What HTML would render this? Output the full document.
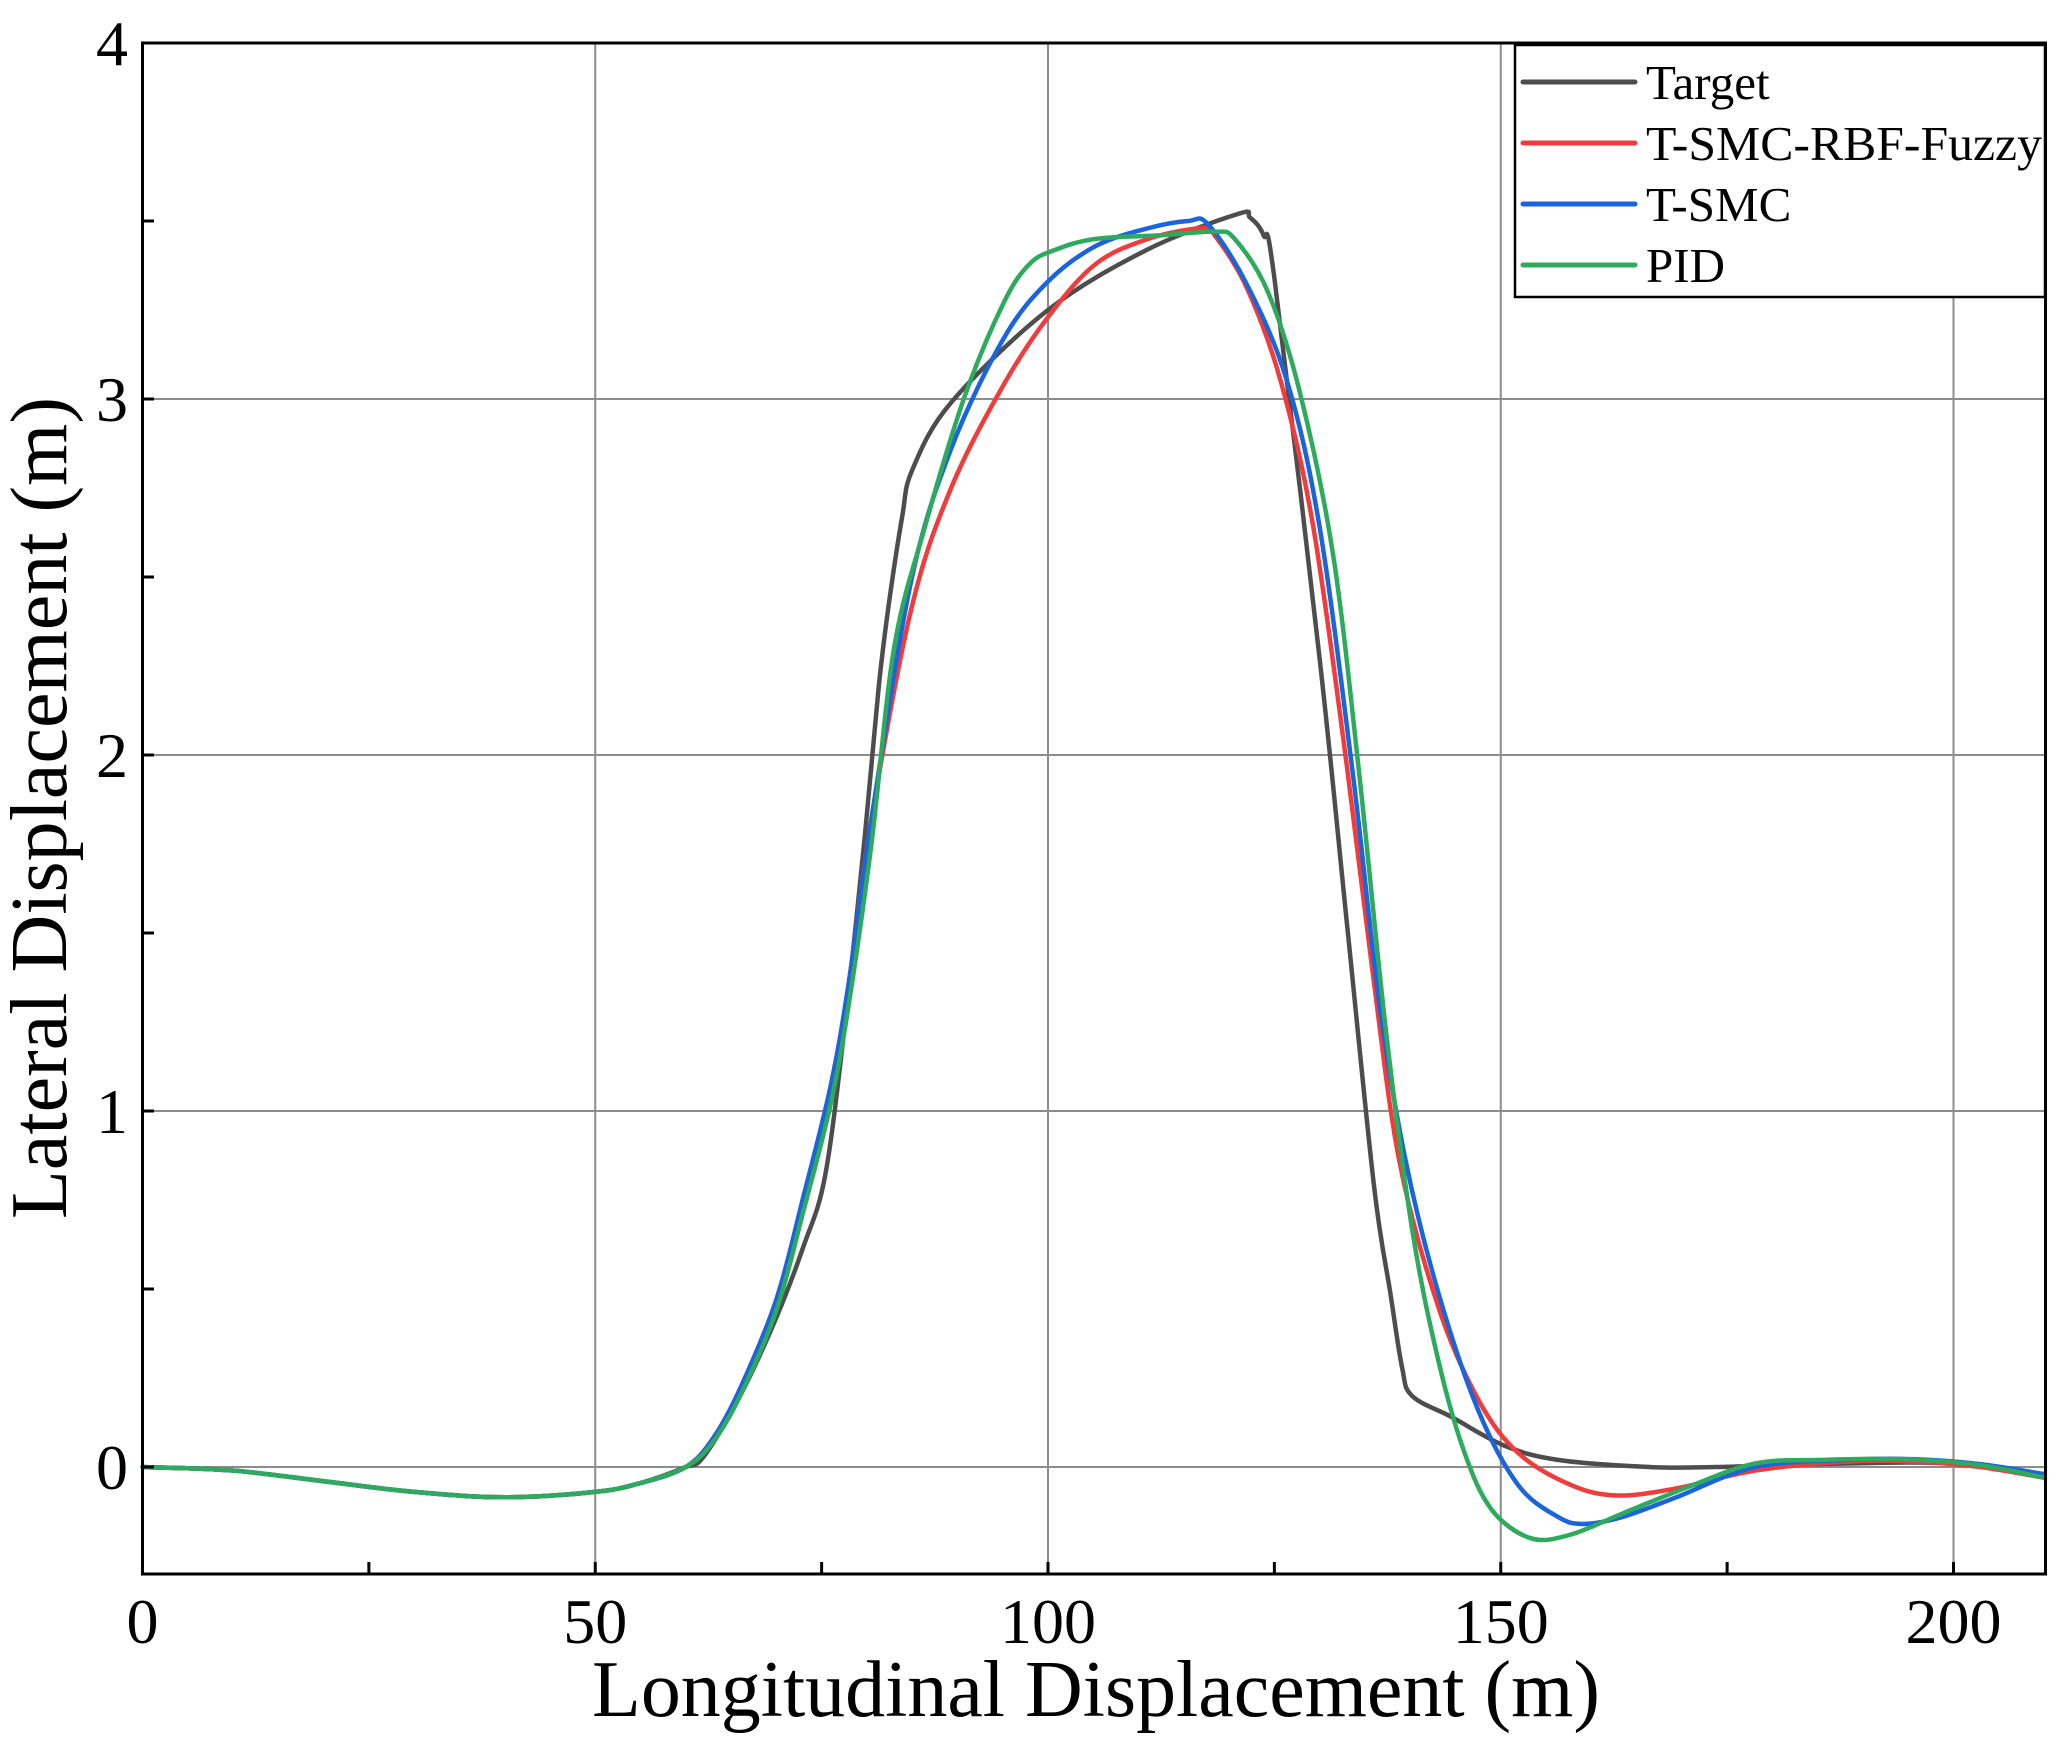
<!DOCTYPE html>
<html><head><meta charset="utf-8"><style>
html,body{margin:0;padding:0;background:#fff;}
svg{display:block;font-family:"Liberation Serif",serif;}
</style></head><body>
<svg id="s" width="2067" height="1747" viewBox="0 0 2067 1747" xmlns="http://www.w3.org/2000/svg">
<rect width="2067" height="1747" fill="#fff"/>
<g id="grid" stroke="#8c8c8c" stroke-width="2"></g>
<g id="curves" fill="none" stroke-width="4.5" stroke-linejoin="round" stroke-linecap="round"></g>
<rect x="142.5" y="43" width="1903" height="1531" fill="none" stroke="#000" stroke-width="3"/>
<g id="ticks" stroke="#000" stroke-width="3"></g>
<g id="labels" font-size="64" fill="#000"></g>
<text x="1096" y="1716" font-size="80" text-anchor="middle" textLength="1008" lengthAdjust="spacingAndGlyphs">Longitudinal Displacement (m)</text>
<text transform="translate(66,808) rotate(-90)" font-size="80" text-anchor="middle" textLength="822" lengthAdjust="spacingAndGlyphs">Lateral Displacement (m)</text>
<g>
<rect x="1515" y="45" width="530" height="252" fill="#fff" stroke="#000" stroke-width="2.5"/>
<line x1="1523" y1="82" x2="1635" y2="82" stroke="#4d4d4d" stroke-width="5" stroke-linecap="round"/>
<line x1="1523" y1="143" x2="1635" y2="143" stroke="#f03c3c" stroke-width="5" stroke-linecap="round"/>
<line x1="1523" y1="204" x2="1635" y2="204" stroke="#1a64dc" stroke-width="5" stroke-linecap="round"/>
<line x1="1523" y1="265" x2="1635" y2="265" stroke="#2eaa5e" stroke-width="5" stroke-linecap="round"/>
<g font-size="49" fill="#000">
<text x="1646" y="99">Target</text>
<text x="1646" y="160" textLength="396" lengthAdjust="spacingAndGlyphs">T-SMC-RBF-Fuzzy</text>
<text x="1646" y="221">T-SMC</text>
<text x="1646" y="282">PID</text>
</g>
</g>
</svg>
<script>
var X0=142.5,SX=9.055,Y0=1467,SY=356;
function px(x){return X0+x*SX}function py(y){return Y0-y*SY}
var ns="http://www.w3.org/2000/svg";
function el(p,t,a,txt){var e=document.createElementNS(ns,t);for(var k in a)e.setAttribute(k,a[k]);if(txt!=null)e.textContent=txt;p.appendChild(e);return e}
var grid=document.getElementById('grid'),ticks=document.getElementById('ticks'),lab=document.getElementById('labels');
[50,100,150,200].forEach(function(v){el(grid,'line',{x1:px(v),y1:43,x2:px(v),y2:1574});});
[0,1,2,3].forEach(function(v){el(grid,'line',{x1:142.5,y1:py(v),x2:2045.5,y2:py(v)});});
for(var v=0;v<=200;v+=25){el(ticks,'line',{x1:px(v),y1:1574,x2:px(v),y2:1562});}
for(var v=0;v<=4;v+=0.5){el(ticks,'line',{x1:142.5,y1:py(v),x2:154,y2:py(v)});}
[0,50,100,150,200].forEach(function(v){el(lab,'text',{x:px(v),y:1643,'text-anchor':'middle'},String(v));});
[0,1,2,3,4].forEach(function(v){el(lab,'text',{x:128,y:py(v)+22,'text-anchor':'end'},String(v));});
var base=[[0,0],[10,-0.01],[20,-0.04],[30,-0.07],[40,-0.085],[50,-0.07],[55,-0.045],[60,0.0]];
var rise=[[63,0.08],[66,0.22],[70,0.47],[73,0.76],[76,1.07],[78,1.36],[80.5,1.82]];
var T=base.concat([[62,0.03],[66,0.2],[70,0.42],[73,0.62],[75.4,0.82],[77.6,1.25],[79.8,1.78],[81.3,2.19],[82.4,2.42],[83.9,2.67],[85,2.8],[89.3,2.99],[100,3.25],[111,3.42],[121,3.52],[122.3,3.51],[123.8,3.46],[125,3.34],[130,2.27],[133,1.53],[136,0.79],[137.8,0.49],[139.1,0.28],[140.2,0.2],[144.6,0.14],[150.4,0.06],[156.3,0.02],[166.4,0],[173.7,0],[188,0.01],[200,0.01],[210,-0.02]]);
var R=base.concat(rise,[[84.9,2.41],[89.3,2.75],[95.1,3.04],[100,3.23],[105.3,3.38],[111.1,3.45],[116.9,3.48],[118.4,3.46],[122,3.31],[125.7,3.05],[129.3,2.64],[133,1.97],[135.9,1.38],[138.8,0.86],[143.1,0.45],[147.5,0.19],[151.9,0.04],[157.7,-0.05],[162.8,-0.08],[169.4,-0.06],[178.1,-0.01],[188.3,0.015],[195.6,0.015],[202.9,0],[210,-0.03]]);
var B=base.concat(rise,[[84.9,2.49],[89.3,2.86],[95.1,3.17],[100,3.33],[105.3,3.43],[111.1,3.48],[115.5,3.5],[117.7,3.49],[122,3.32],[126.4,3.05],[130,2.64],[133.7,1.94],[136.6,1.3],[139.5,0.86],[143.1,0.49],[147.5,0.16],[151.9,-0.05],[156.3,-0.14],[159.2,-0.16],[163.5,-0.14],[169.4,-0.085],[178.1,0],[188.3,0.02],[195.6,0.022],[202.9,0.008],[210,-0.02]]);
var G=base.concat([[63,0.07],[66,0.2],[70,0.44],[73,0.72],[76,1.02],[78,1.3],[80.5,1.75],[83,2.3],[86.4,2.64],[90.7,3.0],[95.1,3.27],[98,3.38],[100.9,3.42],[105.3,3.45],[112.6,3.46],[118.4,3.47],[120.6,3.45],[124.3,3.3],[127.9,3.01],[131.5,2.56],[134.4,1.94],[137.3,1.23],[140.2,0.67],[143.1,0.3],[146,0.04],[149,-0.12],[153.3,-0.2],[157.7,-0.19],[163.5,-0.13],[170.8,-0.055],[178.1,0.01],[185.4,0.02],[194.2,0.022],[202.9,0.005],[210,-0.03]]);
function path(d){var p=d.map(function(q){return[px(q[0]),py(q[1])]});var s="M"+p[0][0]+","+p[0][1];
for(var i=0;i<p.length-1;i++){var a=p[i>0?i-1:0],b=p[i],c=p[i+1],e=p[i+2<p.length?i+2:i+1];
s+=" C"+(b[0]+(c[0]-a[0])/6)+","+(b[1]+(c[1]-a[1])/6)+" "+(c[0]-(e[0]-b[0])/6)+","+(c[1]-(e[1]-b[1])/6)+" "+c[0]+","+c[1];}return s}
var cv=document.getElementById('curves');
el(cv,'path',{d:path(T),stroke:'#4d4d4d'});
el(cv,'path',{d:path(R),stroke:'#f03c3c'});
el(cv,'path',{d:path(B),stroke:'#1a64dc'});
el(cv,'path',{d:path(G),stroke:'#2eaa5e'});
</script>
</body></html>
